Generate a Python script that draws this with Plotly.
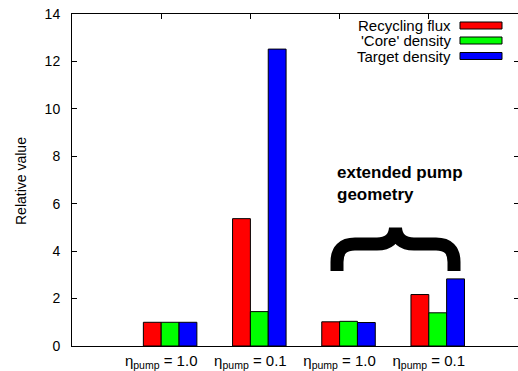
import plotly.graph_objects as go

# ---- data ----
categories = ["η<sub>pump</sub> = 1.0", "η<sub>pump</sub> = 0.1", "η<sub>pump</sub> = 1.0", "η<sub>pump</sub> = 0.1"]
cat_pos = [0, 1, 2, 3]
series_names = ["Recycling flux", "'Core' density", "Target density"]
recycling_flux = [1.0, 5.37, 1.02, 2.17]
core_density = [1.0, 1.45, 1.04, 1.40]
target_density = [1.0, 12.52, 0.99, 2.83]
y_ticks = [0, 2, 4, 6, 8, 10, 12, 14]
annotation_text = "extended pump<br>geometry"

colors = ["#ff0000", "#00ff00", "#0000ff"]
W, H = 518, 371
L, R, T, B = 72, 0, 14, 25
PW, PH = W - L - R, H - T - B

def px(x):
    return (x - L) / PW

def py(y):
    return (H - B - y) / PH

fig = go.Figure()
series = [recycling_flux, core_density, target_density]
for name, vals, col in zip(series_names, series, colors):
    fig.add_trace(go.Bar(
        x=[c + 0.1 for c in cat_pos], y=vals, name=name,
        marker=dict(color=col, line=dict(color="#000000", width=1)),
        showlegend=False,
    ))

font = "Liberation Sans, Arial, sans-serif"
fig.update_layout(
    width=W, height=H,
    margin=dict(l=L, r=R, t=T, b=B, autoexpand=False),
    paper_bgcolor="white", plot_bgcolor="white",
    barmode="group", bargap=0.4, bargroupgap=0,
    font=dict(family=font, size=14, color="black"),
    xaxis=dict(range=[-1, 4], tickvals=cat_pos, ticktext=categories,
               ticks="", showline=True, linecolor="black", linewidth=1,
               showgrid=False, zeroline=False, automargin=False,
               ticklabelstandoff=1, tickfont=dict(size=15)),
    xaxis2=dict(range=[-1, 4], overlaying="x", side="top", tickvals=cat_pos,
                ticks="inside", ticklen=5, tickcolor="black",
                showticklabels=False, showline=True, linecolor="black",
                linewidth=1, showgrid=False, zeroline=False, anchor="y"),
    yaxis=dict(range=[0, 14], tickvals=y_ticks, ticks="inside", ticklen=5,
               tickcolor="black", showline=True, linecolor="black",
               linewidth=1, showgrid=False, zeroline=False, automargin=False,
               ticklabelstandoff=8, tickfont=dict(size=14)),
    yaxis2=dict(range=[0, 14], overlaying="y", side="right", tickvals=y_ticks,
                ticks="inside", ticklen=4, tickcolor="black",
                showticklabels=False, showline=False, showgrid=False,
                zeroline=False, anchor="x"),
)
# invisible trace so the mirrored top/right axes are present
fig.add_trace(go.Scatter(x=[-1], y=[0], xaxis="x2", yaxis="y2", mode="markers",
                         marker=dict(opacity=0), showlegend=False, hoverinfo="skip"))

annotations = []
shapes = []
# y-axis title
annotations.append(dict(text="Relative value", xref="paper", yref="paper",
                        x=px(21), y=py(181), textangle=-90, showarrow=False,
                        xanchor="center", yanchor="middle", font=dict(size=14)))
# legend
row_y = [25.5, 40.5, 56]
for name, col, ry in zip(series_names, colors, row_y):
    annotations.append(dict(text=name, xref="paper", yref="paper", x=px(453),
                            y=py(ry), xanchor="right", yanchor="middle",
                            showarrow=False, font=dict(size=15)))
    shapes.append(dict(type="rect", xref="paper", yref="paper",
                       x0=px(460), x1=px(502), y0=py(ry - 3.5), y1=py(ry + 3.5),
                       fillcolor=col, line=dict(color="black", width=1)))
# annotation text
annotations.append(dict(text="<b>" + annotation_text + "</b>", xref="paper", yref="paper",
                        x=px(335), y=py(184), xanchor="left", yanchor="middle",
                        align="left", showarrow=False, font=dict(size=17)))
# brace
pts = "M {} {} L {} {} Q {} {} {} {} L {} {} Q {} {} {} {} Q {} {} {} {} L {} {} Q {} {} {} {} L {} {}"
coords = [(337, 271), (337, 262), (337, 244), (355, 244), (377, 244),
          (394, 244), (395.5, 228), (397, 244), (414, 244), (436, 244),
          (454, 244), (454, 262), (454, 271)]
path = pts.format(*[v for (x, y) in coords for v in (px(x), py(y))])
shapes.append(dict(type="path", xref="paper", yref="paper", path=path,
                   line=dict(color="black", width=13)))
fig.update_layout(annotations=annotations, shapes=shapes)

fig.write_html("out.html", config={"displayModeBar": False},
               post_script="document.body.style.margin='0';")
